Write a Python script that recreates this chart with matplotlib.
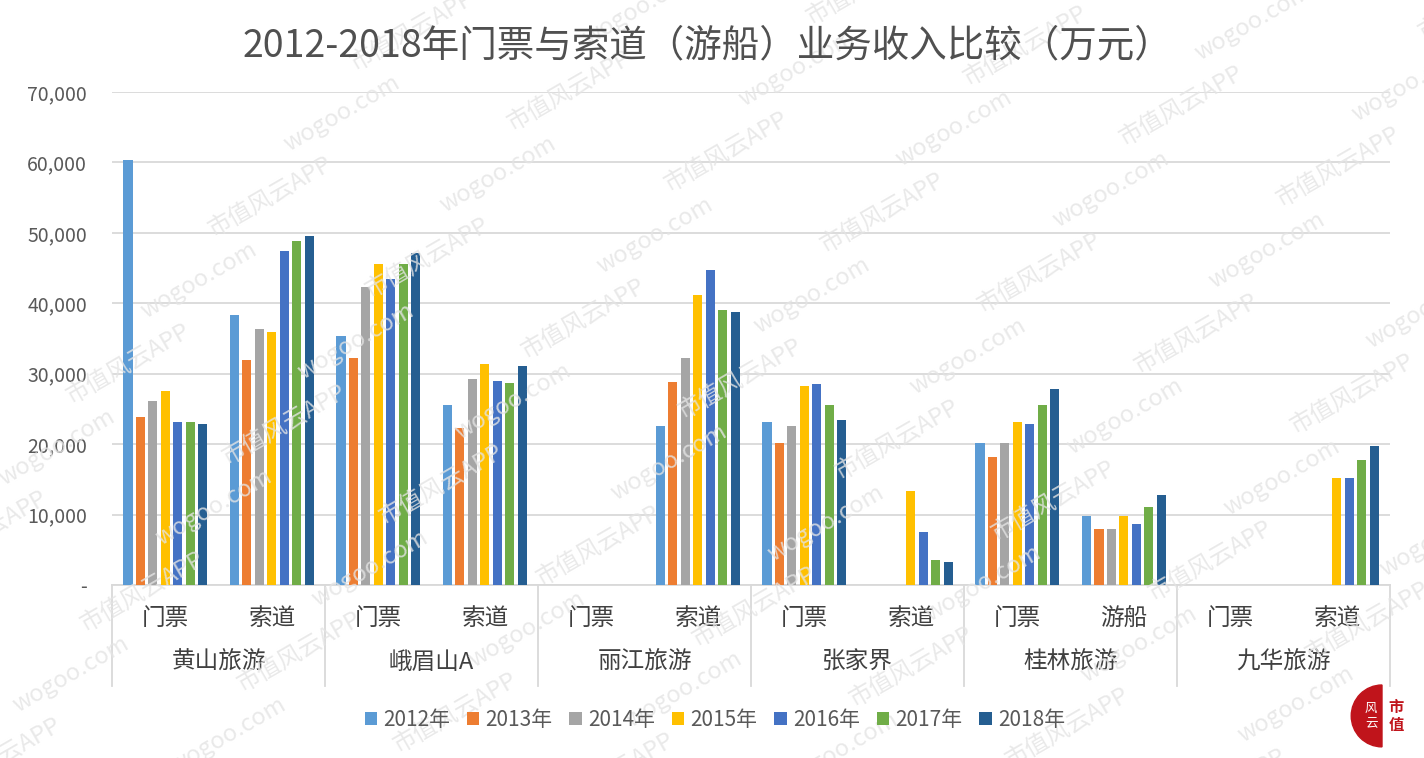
import numpy as np
import matplotlib.pyplot as plt
from matplotlib.transforms import blended_transform_factory
from matplotlib.patches import Wedge
plt.rcParams['font.family'] = ['Noto Sans CJK SC', 'DejaVu Sans']

companies = ['黄山旅游', '峨眉山A', '丽江旅游', '张家界', '桂林旅游', '九华旅游']
items = ['门票', '索道', '门票', '索道', '门票', '索道', '门票', '索道', '门票', '游船', '门票', '索道']
years = ['2012年', '2013年', '2014年', '2015年', '2016年', '2017年', '2018年']
colors = ['#5B9BD5', '#ED7D31', '#A5A5A5', '#FFC000', '#4472C4', '#70AD47', '#255E91']

# 每个类别按年份排列，0 表示无数据
v2012 = [60400, 38400, 35300, 25500, 0, 22600, 23100, 0, 20200, 9800, 0, 0]
v2013 = [23800, 32000, 32300, 22300, 0, 28800, 20200, 0, 18200, 8000, 0, 0]
v2014 = [26100, 36400, 42300, 29300, 0, 32300, 22600, 0, 20200, 8000, 0, 0]
v2015 = [27600, 35900, 45600, 31400, 0, 41200, 28200, 13400, 23200, 9800, 0, 15200]
v2016 = [23100, 47400, 43500, 29000, 0, 44700, 28500, 7500, 22900, 8700, 0, 15200]
v2017 = [23100, 48800, 45600, 28700, 0, 39000, 25500, 3600, 25500, 11100, 0, 17800]
v2018 = [22800, 49500, 47100, 31100, 0, 38800, 23400, 3300, 27900, 12800, 0, 19700]
series = [v2012, v2013, v2014, v2015, v2016, v2017, v2018]

fig = plt.figure(figsize=(14.24, 7.58), dpi=100)
ax = fig.add_axes([0.0787, 0.2282, 0.8975, 0.6504])

x = np.arange(len(items))
slot = 0.117
for i, vals in enumerate(series):
    ax.bar(x + (i - 3) * slot, vals, width=0.086, color=colors[i], label=years[i], zorder=3)

ax.set_xlim(-0.5, len(items) - 0.5)
ax.set_ylim(0, 70000)
ax.set_yticks(range(0, 70001, 10000))
ax.set_yticklabels(['-'] + ['{:,}'.format(v) for v in range(10000, 70001, 10000)],
                   fontsize=14, color='#595959')
ax.tick_params(axis='y', length=0, pad=18)
ax.tick_params(axis='x', length=0, labelbottom=False)
ax.grid(axis='y', color='#D9D9D9', linewidth=1.3, zorder=0)
for s in ['top', 'right', 'left']:
    ax.spines[s].set_visible(False)
ax.spines['bottom'].set_color('#D9D9D9')
ax.spines['bottom'].set_linewidth(1.3)

# 两级分类轴
trans = blended_transform_factory(ax.transData, ax.transAxes)
for k, name in enumerate(items):
    ax.text(k, -0.067, name, transform=trans, ha='center', va='center', fontsize=17, color='#404040')
for g, name in enumerate(companies):
    ax.text(2 * g + 0.5, -0.157, name, transform=trans, ha='center', va='center', fontsize=17, color='#404040')
for b in range(0, len(items) + 1, 2):
    ax.plot([b - 0.5, b - 0.5], [0, -0.205], transform=trans, color='#D9D9D9', lw=1.3, clip_on=False)

fig.text(0.497, 0.94, '2012-2018年门票与索道（游船）业务收入比较（万元）', ha='center', va='center',
         fontsize=27, color='#505050', fontweight='light')

leg = fig.legend(loc='center', bbox_to_anchor=(0.502, 0.05), ncol=7, frameon=False, fontsize=15,
                 handlelength=0.6, handleheight=0.6, handletextpad=0.3, columnspacing=0.8)
for t in leg.get_texts():
    t.set_color('#595959')

# 水印，铺满整张图
for r in range(-3, 10):
    for c in range(-1, 9):
        xx = c * 0.16 + r * 0.05
        yy = r * 0.11 + c * 0.03
        if not (-0.05 < xx < 1.05 and -0.05 < yy < 1.05):
            continue
        txt = '市值风云APP' if (r + c) % 2 == 0 else 'wogoo.com'
        fig.text(xx, yy, txt, rotation=30, fontsize=17, color='#E4E4E4', alpha=0.8,
                 ha='center', va='center', zorder=0)

# 右下角标志
wax = fig.add_axes([0.948, 0.013, 0.045, 0.085])
wax.set_xlim(0, 1)
wax.set_ylim(0, 1)
wax.axis('off')
wax.add_patch(Wedge((0.5, 0.5), 0.48, 90, 270, color='#C0141B'))
wax.text(0.33, 0.5, '风\n云', color='white', fontsize=9, ha='center', va='center', style='italic')
wax.text(0.72, 0.5, '市\n值', color='#C0141B', fontsize=11, ha='center', va='center', fontweight='bold')

fig.savefig('out.png', dpi=100)
